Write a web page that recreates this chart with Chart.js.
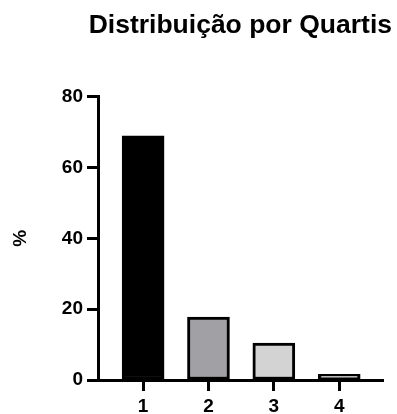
<!DOCTYPE html>
<html>
<head>
<meta charset="utf-8">
<script src="https://cdn.jsdelivr.net/npm/chart.js@4"></script>
<style>
  html, body { margin: 0; padding: 0; background: #fff; }
  #wrap { width: 397px; height: 414px; }
</style>
</head>
<body>
<div id="wrap"><canvas id="chart" width="397" height="414"></canvas></div>
<script>
// dados do gráfico
const quartis = [1, 2, 3, 4];
const quartilLabels = ['1', '2', '3', '4'];
const percentuais = [69, 17.8, 10.4, 1.6];
const coresBarras = ['#000000', '#a0a0a5', '#d3d3d3', '#f2f2f2'];
const yTicks = [0, 20, 40, 60, 80];

const fonte = 'Liberation Sans, Arial, sans-serif';

const pontos = quartis.map((q, i) => ({ x: q, y: percentuais[i] }));

new Chart(document.getElementById('chart'), {
    type: 'bar',
    data: {
        datasets: [{
            data: pontos,
            backgroundColor: coresBarras,
            borderColor: '#000',
            borderWidth: 3,
            borderSkipped: false,
            barThickness: 42
        }]
    },
    options: {
        responsive: false,
        animation: false,
        layout: { padding: { left: 0, right: 5, top: 0, bottom: 0 } },
        plugins: {
            legend: { display: false },
            tooltip: { enabled: false },
            title: {
                display: true,
                align: 'end',
                text: 'Distribuição por Quartis',
                color: '#000',
                font: { family: fonte, size: 26.5, weight: 'bold' },
                padding: { top: 10, bottom: 55 }
            }
        },
        scales: {
            x: {
                type: 'linear',
                min: 0.31,
                max: 4.67,
                offset: false,
                afterFit: s => { s.height = 34; },
                afterBuildTicks: s => { s.ticks = quartis.map(v => ({ value: v })); },
                border: { display: true, color: '#000', width: 3 },
                grid: { display: true, offset: false, drawOnChartArea: false, drawTicks: true, tickLength: 11, tickColor: '#000', tickWidth: 3 },
                ticks: {
                    color: '#000',
                    padding: 4,
                    maxRotation: 0,
                    font: { family: fonte, size: 19, weight: 'bold' },
                    callback: (v) => quartilLabels[quartis.indexOf(v)]
                }
            },
            y: {
                min: 0,
                max: 80,
                afterFit: s => { s.width = 98; },
                afterBuildTicks: s => { s.ticks = yTicks.map(v => ({ value: v })); },
                border: { display: true, color: '#000', width: 3 },
                grid: { display: true, drawOnChartArea: false, drawTicks: true, tickLength: 11, tickColor: '#000', tickWidth: 3 },
                ticks: {
                    color: '#000',
                    padding: 4,
                    font: { family: fonte, size: 19, weight: 'bold' }
                },
                title: {
                    display: true,
                    text: '%',
                    color: '#000',
                    padding: { top: 9, bottom: 0 },
                    font: { family: fonte, size: 19, weight: 'bold' }
                }
            },
            // eixo vazio à direita, só para reservar espaço
            yDir: {
                type: 'linear',
                position: 'right',
                afterFit: s => { s.width = 9; },
                border: { display: false },
                grid: { display: false },
                ticks: { display: false }
            }
        }
    }
});
</script>
</body>
</html>
